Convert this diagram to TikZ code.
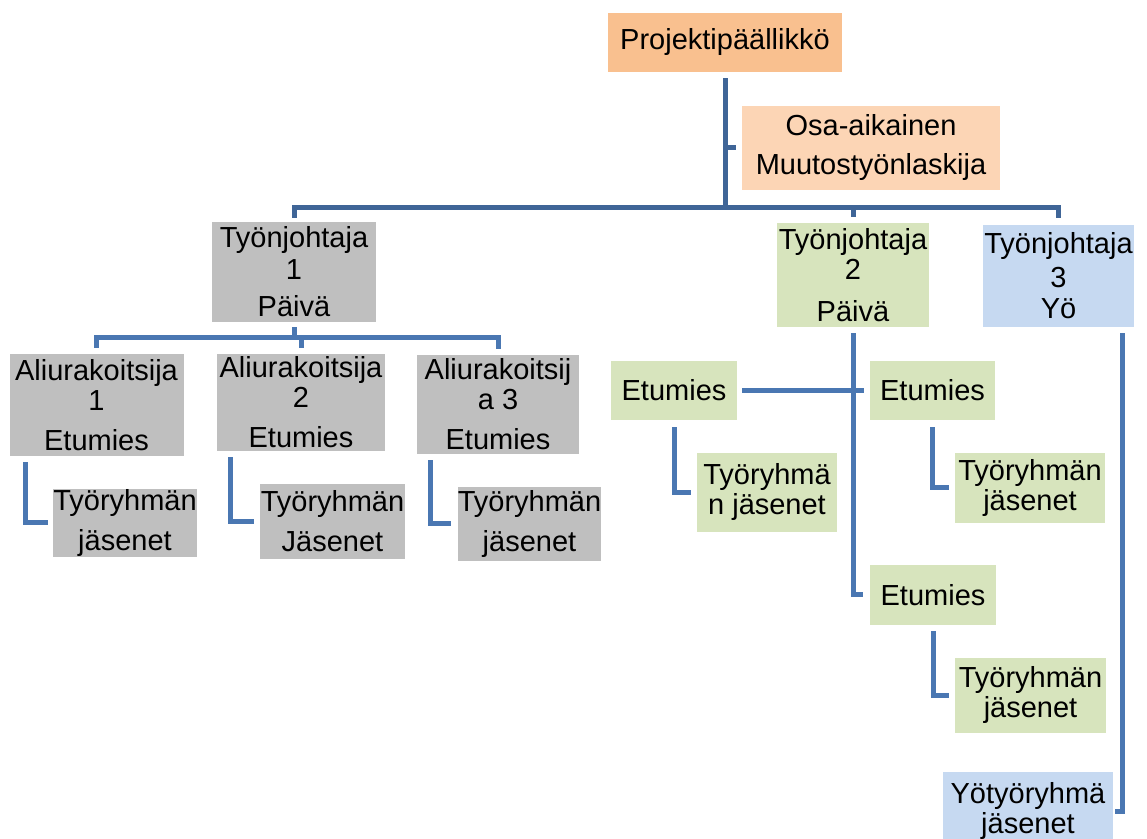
\documentclass[tikz,border=0pt]{standalone}
\usepackage{fontspec}
\setmainfont{Liberation Sans}
\definecolor{projorange}{HTML}{F9C08F}
\definecolor{osapeach}{HTML}{FCD5B5}
\definecolor{greyfill}{HTML}{BFBFBF}
\definecolor{greenfill}{HTML}{D7E4BD}
\definecolor{bluefill}{HTML}{C6D9F1}
\definecolor{linedark}{HTML}{3F6597}
\definecolor{linemid}{HTML}{4A77B2}
\tikzset{
    orgbox/.style = {
        shape=rectangle,
        inner sep=0pt,
        align=center,
        font=\fontsize{14.5}{15}\selectfont
    },
    proj/.style = {
        orgbox,
        fill=projorange
    },
    osa/.style = {
        orgbox,
        fill=osapeach
    },
    dayone/.style = {
        orgbox,
        fill=greyfill
    },
    daytwo/.style = {
        orgbox,
        fill=greenfill
    },
    night/.style = {
        orgbox,
        fill=bluefill
    },
    topconn/.style = {
        draw=linedark,
        line width=2.5pt
    },
    conn/.style = {
        draw=linemid,
        line width=2.5pt
    },
}
\begin{document}
\begin{tikzpicture}[x=0.5pt,y=-0.5pt]
            \path[fill=white] (0,0) rectangle (1147,839);
            \useasboundingbox (0,0) rectangle (1147,839);

            \node[proj, minimum width=117pt, minimum height=29.5pt] (proj) at (725,42.5) {Projektipäällikkö};
            \node[osa, minimum width=129pt, minimum height=42pt] (osa) at (871,148) {Osa-aikainen\\[4.5pt]Muutostyönlaskija};

            \node[dayone, minimum width=82pt, minimum height=50pt] (tj1) at (294,272) {Työnjohtaja\\[1pt]1\\[3.5pt]Päivä};
            \node[daytwo, minimum width=76pt, minimum height=52pt] (tj2) at (853,275) {Työnjohtaja\\2\\[6pt]Päivä};
            \node[night, minimum width=75.5pt, minimum height=51pt] (tj3) at (1058.5,276) {Työnjohtaja\\[2pt]3\\[0.5pt]Yö};

            \node[dayone, minimum width=87pt, minimum height=51pt] (a1) at (96.5,405) {Aliurakoitsija\\1\\[5pt]Etumies};
            \node[dayone, minimum width=84pt, minimum height=48.5pt] (a2) at (301,402.5) {Aliurakoitsija\\2\\[5pt]Etumies};
            \node[dayone, minimum width=81pt, minimum height=49.5pt] (a3) at (498,404.5) {Aliurakoitsij\\a 3\\[5pt]Etumies};

            \node[dayone, minimum width=70pt, minimum height=34pt] (w1) at (125,523) {Työryhmän\\[5pt]jäsenet};
            \node[dayone, minimum width=72.5pt, minimum height=37.5pt] (w2) at (332.5,521.5) {Työryhmän\\[5pt]Jäsenet};
            \node[dayone, minimum width=70.5pt, minimum height=37pt] (w3) at (529.5,524) {Työryhmän\\[5pt]jäsenet};

            \node[daytwo, minimum width=63pt, minimum height=29.5pt] (e1) at (674,390.5) {Etumies};
            \node[daytwo, minimum width=62.5pt, minimum height=29.5pt] (e2) at (932.5,390.5) {Etumies};
            \node[daytwo, minimum width=63pt, minimum height=30pt] (e3) at (933,595) {Etumies};

            \node[daytwo, minimum width=70pt, minimum height=39.5pt] (w4) at (767,492.5) {Työryhmä\\n jäsenet};
            \node[daytwo, minimum width=75pt, minimum height=35pt] (w5) at (1030,488) {Työryhmän\\jäsenet};
            \node[daytwo, minimum width=75.5pt, minimum height=37.5pt] (w6) at (1030.5,695.5) {Työryhmän\\jäsenet};

            \node[night, minimum width=85pt, minimum height=39pt] (yo) at (1028,811) {Yötyöryhmä\\jäsenet};

            \coordinate (hub) at (725,208);
            \coordinate (daybar) at (294,338);

            \path[topconn] ([yshift=-3pt]proj.south) -- (hub);
            \path[topconn] (osa.west -| hub) -- ([xshift=-3pt]osa.west);
            \path[topconn] ([yshift=2pt]tj1.north) |- (hub) -| ([yshift=3.5pt]tj3.north);
            \path[topconn] ([yshift=3pt]tj2.north) -- (tj2.north |- hub);

            \path[conn] ([yshift=-2.5pt]tj1.south) -- (daybar);
            \path[conn] ([yshift=3pt]a1.north) |- (daybar) -| ([yshift=3pt]a3.north);
            \path[conn] ([yshift=3pt]a2.north) -- (a2.north |- daybar);

            \path[conn] ([xshift=8pt,yshift=-3pt]a1.south west) |- ([xshift=-2.5pt]w1.west);
            \path[conn] ([xshift=7pt,yshift=-3pt]a2.south west) |- ([xshift=-3pt]w2.west);
            \path[conn] ([xshift=7pt,yshift=-3pt]a3.south west) |- ([xshift=-3pt]w3.west);

            \path[conn] ([yshift=-3pt]tj2.south) |- ([xshift=-3.5pt]e3.west);
            \path[conn] ([xshift=2.5pt]e1.east) -- ([xshift=-3pt]e2.west);

            \path[conn] ([yshift=-3.5pt]e1.south) |- ([xshift=-3pt]w4.west);
            \path[conn] ([yshift=-3.5pt]e2.south) |- ([xshift=-3pt]w5.west);
            \path[conn] ([yshift=-3pt]e3.south) |- ([xshift=-3pt]w6.west);

            \path[conn] ([xshift=-6pt,yshift=-3pt]tj3.south east) |- ([xshift=1pt]yo.east);
\end{tikzpicture}
\end{document}
